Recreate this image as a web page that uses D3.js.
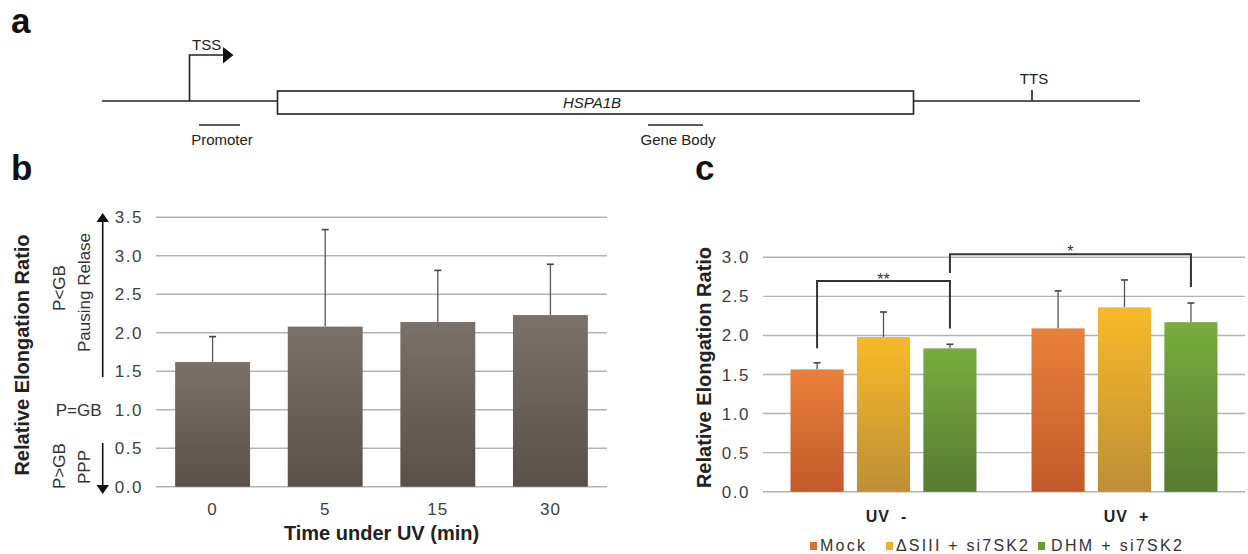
<!DOCTYPE html>
<html><head><meta charset="utf-8">
<script src="https://cdn.jsdelivr.net/npm/d3@7"></script>
<style>
body{margin:0;background:#fff;}
svg{display:block;font-family:"Liberation Sans",Arial,sans-serif;}
</style></head><body>
<svg id="chart" width="1248" height="554"></svg>
<script>
// ---- Panel b data ----
const timeCategories = ["0","5","15","30"];
const timeValues = [1.62, 2.08, 2.14, 2.23];
const timeErrTops = [1.95, 3.34, 2.81, 2.89];
const bTicks = [0,0.5,1.0,1.5,2.0,2.5,3.0,3.5];

// ---- Panel c data ----
const uvGroups = ["UV -","UV +"];
const treatments = ["Mock","\u0394SIII + si7SK2","DHM + si7SK2"];
const mockValues = [1.565, 2.09];
const dsiiiValues = [1.98, 2.36];
const dhmValues = [1.835, 2.17];
const mockErrTops = [1.65, 2.57];
const dsiiiErrTops = [2.30, 2.71];
const dhmErrTops = [1.887, 2.415];
const cTicks = [0,0.5,1.0,1.5,2.0,2.5,3.0];
// significance brackets: [groupA, treatA, groupB, treatB, yTop, yLeftEnd, yRightEnd, label]
const brackets = [
  ["UV -",0,"UV -",2,2.697,1.835,2.09,"**"],
  ["UV -",2,"UV +",2,3.04,2.80,2.62,"*"]
];

const svg = d3.select("#chart");

// gradients
const defs = svg.append("defs");
function grad(id, top, bot){
  const g = defs.append("linearGradient").attr("id",id).attr("x1",0).attr("y1",0).attr("x2",0).attr("y2",1);
  g.append("stop").attr("offset","0%").attr("stop-color",top);
  g.append("stop").attr("offset","100%").attr("stop-color",bot);
}
grad("gb","#7b716b","#5a504a");
grad("g0","#e9803b","#c2592b");
grad("g1","#f8b929","#bd8f37");
grad("g2","#7aac3f","#557a31");
const legendColors = ["#dd6f2f","#f0b02e","#6a9a38"];

// ---- panel labels ----
svg.append("text").attr("x",11).attr("y",33).attr("font-size",35).attr("font-weight","bold").attr("fill","#111").text("a");
svg.append("text").attr("x",11).attr("y",180).attr("font-size",35).attr("font-weight","bold").attr("fill","#111").text("b");
svg.append("text").attr("x",695).attr("y",180).attr("font-size",35).attr("font-weight","bold").attr("fill","#111").text("c");

// ---- Panel a: gene diagram ----
const ga = svg.append("g").attr("stroke","#222").attr("stroke-width",1.6).attr("fill","none");
const lineY = 101;
ga.append("line").attr("x1",102).attr("x2",1140).attr("y1",lineY).attr("y2",lineY);
ga.append("rect").attr("x",277.5).attr("y",91).attr("width",636).attr("height",23).attr("fill","#fff");
ga.append("path").attr("d",`M189.5,${lineY} V55 H224`);
svg.append("path").attr("d","M223,47 L233.5,55 L223,63.5 Z").attr("fill","#111");
ga.append("line").attr("x1",1032).attr("x2",1032).attr("y1",90).attr("y2",lineY);
ga.append("line").attr("x1",199).attr("x2",240).attr("y1",125).attr("y2",125);
ga.append("line").attr("x1",648).attr("x2",703).attr("y1",125).attr("y2",125);
svg.append("text").attr("x",192).attr("y",50).attr("font-size",15).attr("fill","#222").text("TSS");
svg.append("text").attr("x",1034).attr("y",84).attr("text-anchor","middle").attr("font-size",15).attr("fill","#222").text("TTS");
svg.append("text").attr("x",563).attr("y",108).attr("font-size",15).attr("font-style","italic").attr("fill","#222").text("HSPA1B");
svg.append("text").attr("x",222).attr("y",145).attr("text-anchor","middle").attr("font-size",15).attr("fill","#222").text("Promoter");
svg.append("text").attr("x",678).attr("y",145).attr("text-anchor","middle").attr("font-size",15).attr("fill","#222").text("Gene Body");

// ---- Panel b ----
const xb = d3.scaleBand().domain(timeCategories).range([156,607]).paddingInner(0.335).paddingOuter(0.17);
const yb = d3.scaleLinear().domain([0,3.5]).range([486.7,217.3]);
const gb = svg.append("g");
gb.append("g").selectAll("line").data(bTicks).join("line")
  .attr("x1",156).attr("x2",607).attr("y1",d=>yb(d)).attr("y2",d=>yb(d))
  .attr("stroke","#b3b3b3").attr("stroke-width",1.4);
gb.append("g").selectAll("text").data(bTicks).join("text")
  .attr("x",143).attr("y",d=>yb(d)+6).attr("text-anchor","end")
  .attr("font-size",17).attr("letter-spacing","1.5px").attr("fill","#3f3f3f").text(d=>d.toFixed(1));
const bData = timeCategories.map((c,i)=>({c,v:timeValues[i],e:timeErrTops[i]}));
gb.append("g").selectAll("line").data(bData).join("line")
  .attr("x1",d=>xb(d.c)+xb.bandwidth()/2).attr("x2",d=>xb(d.c)+xb.bandwidth()/2)
  .attr("y1",d=>yb(d.v)).attr("y2",d=>yb(d.e)).attr("stroke","#555").attr("stroke-width",1.3);
gb.append("g").selectAll("line").data(bData).join("line")
  .attr("x1",d=>xb(d.c)+xb.bandwidth()/2-3.5).attr("x2",d=>xb(d.c)+xb.bandwidth()/2+3.5)
  .attr("y1",d=>yb(d.e)).attr("y2",d=>yb(d.e)).attr("stroke","#444").attr("stroke-width",1.6);
gb.append("g").selectAll("rect").data(bData).join("rect")
  .attr("x",d=>xb(d.c)).attr("width",xb.bandwidth())
  .attr("y",d=>yb(d.v)).attr("height",d=>yb(0)-yb(d.v)).attr("fill","url(#gb)");
gb.append("g").selectAll("text").data(timeCategories).join("text")
  .attr("x",d=>xb(d)+xb.bandwidth()/2).attr("y",515).attr("text-anchor","middle")
  .attr("font-size",17).attr("letter-spacing","1px").attr("fill","#3f3f3f").text(d=>d);
gb.append("text").attr("x",381.5).attr("y",540).attr("text-anchor","middle")
  .attr("font-size",20).attr("font-weight","bold").attr("fill","#222").text("Time under UV (min)");
gb.append("text").attr("transform","translate(29,355) rotate(-90)").attr("text-anchor","middle")
  .attr("font-size",20).attr("font-weight","bold").attr("fill","#222").text("Relative Elongation Ratio");
// annotations
const ann = svg.append("g").attr("fill","#333").attr("font-size",17);
ann.append("text").attr("transform","translate(65,288) rotate(-90)").attr("text-anchor","middle").text("P<GB");
ann.append("text").attr("transform","translate(90,292.5) rotate(-90)").attr("text-anchor","middle").text("Pausing Relase");
ann.append("text").attr("x",101.5).attr("y",416).attr("text-anchor","end").text("P=GB");
ann.append("text").attr("transform","translate(65,466) rotate(-90)").attr("text-anchor","middle").text("P>GB");
ann.append("text").attr("transform","translate(90,467) rotate(-90)").attr("text-anchor","middle").text("PPP");
svg.append("line").attr("x1",102.7).attr("x2",102.7).attr("y1",220).attr("y2",377).attr("stroke","#111").attr("stroke-width",1.6);
svg.append("path").attr("d","M102.7,213 L96.5,222 L109,222 Z").attr("fill","#111");
svg.append("line").attr("x1",102.7).attr("x2",102.7).attr("y1",443).attr("y2",486).attr("stroke","#111").attr("stroke-width",1.6);
svg.append("path").attr("d","M102.7,494 L96.5,485 L109,485 Z").attr("fill","#111");

// ---- Panel c ----
const x0 = d3.scaleBand().domain(uvGroups).range([763,1245]);
const x1 = d3.scaleBand().domain([0,1,2]).range([0,186]).paddingInner(0.2);
const yc = d3.scaleLinear().domain([0,3]).range([491.7,257.3]);
const gc = svg.append("g");
gc.append("g").selectAll("line").data(cTicks).join("line")
  .attr("x1",763).attr("x2",1245).attr("y1",d=>yc(d)).attr("y2",d=>yc(d))
  .attr("stroke","#b3b3b3").attr("stroke-width",1.4);
gc.append("g").selectAll("text").data(cTicks).join("text")
  .attr("x",750).attr("y",d=>yc(d)+6).attr("text-anchor","end")
  .attr("font-size",17).attr("letter-spacing","1.5px").attr("fill","#3f3f3f").text(d=>d.toFixed(1));
const series = [mockValues, dsiiiValues, dhmValues];
const errs = [mockErrTops, dsiiiErrTops, dhmErrTops];
const cData = [];
uvGroups.forEach((g,gi)=>series.forEach((s,ti)=>cData.push({g,ti,v:s[gi],e:errs[ti][gi]})));
const bx = d=> x0(d.g)+x0.bandwidth()/2-93+x1(d.ti);
const cx = (g,ti)=> x0(g)+x0.bandwidth()/2-93+x1(ti)+x1.bandwidth()/2;
gc.append("g").selectAll("line").data(cData).join("line")
  .attr("x1",d=>cx(d.g,d.ti)).attr("x2",d=>cx(d.g,d.ti))
  .attr("y1",d=>yc(d.v)).attr("y2",d=>yc(d.e)).attr("stroke","#555").attr("stroke-width",1.3);
gc.append("g").selectAll("line").data(cData).join("line")
  .attr("x1",d=>cx(d.g,d.ti)-3.5).attr("x2",d=>cx(d.g,d.ti)+3.5)
  .attr("y1",d=>yc(d.e)).attr("y2",d=>yc(d.e)).attr("stroke","#444").attr("stroke-width",1.6);
gc.append("g").selectAll("rect").data(cData).join("rect")
  .attr("x",bx).attr("width",x1.bandwidth())
  .attr("y",d=>yc(d.v)).attr("height",d=>yc(0)-yc(d.v)).attr("fill",d=>`url(#g${d.ti})`);
gc.append("g").selectAll("text").data(uvGroups).join("text")
  .attr("x",(d,i)=>x0(d)+x0.bandwidth()/2+(i?2:3)).attr("y",521.5).attr("text-anchor","middle")
  .attr("font-size",16).attr("font-weight","bold").attr("letter-spacing","1px").attr("fill","#222")
  .attr("xml:space","preserve").text(d=>d.replace(" ","  "));
gc.append("text").attr("transform","translate(711,367.5) rotate(-90)").attr("text-anchor","middle")
  .attr("font-size",20).attr("font-weight","bold").attr("fill","#222").text("Relative Elongation Ratio");
// brackets
const br = gc.append("g");
brackets.forEach(b=>{
  const xa = cx(b[0],b[1]), xbb = cx(b[2],b[3]);
  br.append("path").attr("d",`M${xa},${yc(b[5])} V${yc(b[4])} H${xbb} V${yc(b[6])}`)
    .attr("fill","none").attr("stroke","#333").attr("stroke-width",2);
  br.append("text").attr("x",(xa+xbb)/2).attr("y",yc(b[4])+(b[7]==="*"?3:4)).attr("text-anchor","middle")
    .attr("font-size",16).attr("fill","#333").text(b[7]);
});
// legend
const legendPos = [[810,820,45],[886,896,132],[1038,1051,131]];
const lg = svg.append("g");
treatments.forEach((t,i)=>{
  lg.append("rect").attr("x",legendPos[i][0]).attr("y",542).attr("width",7).attr("height",8).attr("fill",legendColors[i]);
  lg.append("text").attr("x",legendPos[i][1]).attr("y",551).attr("font-size",16).attr("fill","#333")
    .attr("textLength",legendPos[i][2]).attr("lengthAdjust","spacing").text(t);
});
</script>
</body></html>
